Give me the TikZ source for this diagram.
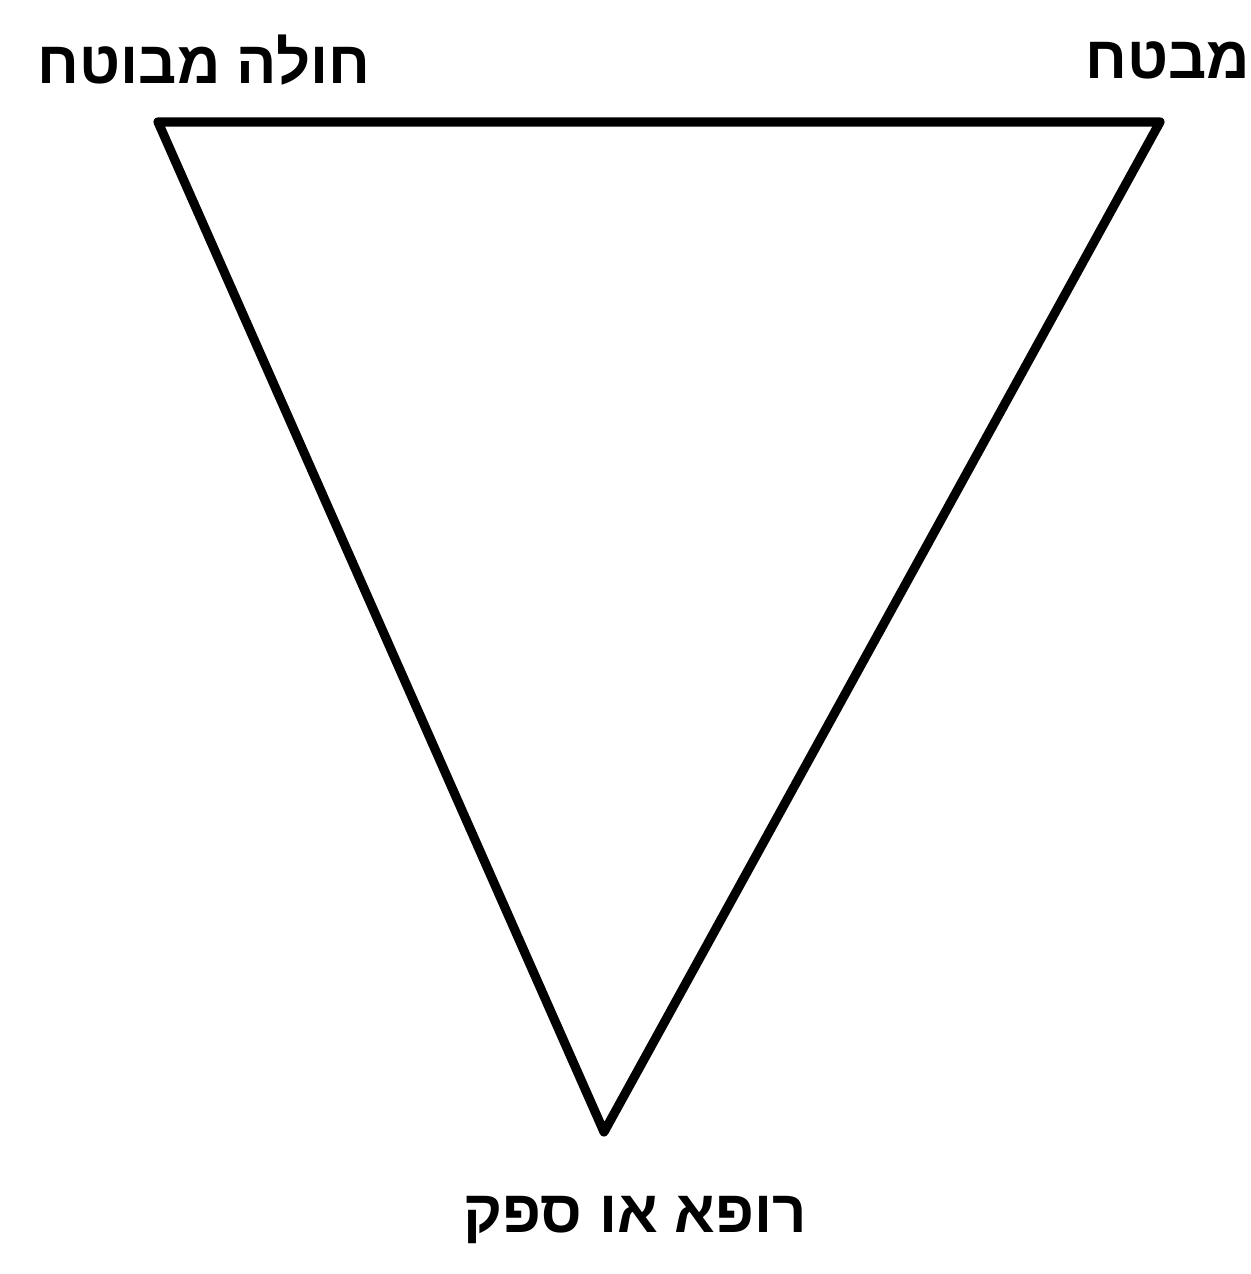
\documentclass[tikz,border=0pt]{standalone}
\usepackage{fontspec}
\usetikzlibrary{positioning}
\TeXXeTstate=1
\newfontfamily\hebfont[Script=Hebrew]{Liberation Sans}
\definecolor{ink}{HTML}{000000}

\begin{document}
\begin{tikzpicture}[
  ink,
  side/.style={draw=ink, line width=2.6pt, line join=round, line cap=round},
  party/.style={font=\hebfont\bfseries\fontsize{17}{20}\selectfont, text=ink, inner sep=0pt},
]
\useasboundingbox (0,0) rectangle (12.5,12.74);

% ---- the three corners -------------------------------------------------------
\coordinate (patient) at (1.58,11.52);
\coordinate (insurer) at (11.60,11.52);
\coordinate (provider) at (6.04,1.42);

\draw[side] (patient) -- (insurer) -- (provider) -- cycle;

% ---- who stands at each corner -----------------------------------------------
\node[party] (patientlbl)  at (2.04,12.14) {\beginR חולה מבוטח\endR};
\node[party, anchor=west] (insurerlbl) at (10.85,12.14) {\beginR מבטח\endR};
\node[party] (providerlbl) at (6.35,0.54) {\beginR רופא או ספק\endR};

\end{tikzpicture}
\end{document}
